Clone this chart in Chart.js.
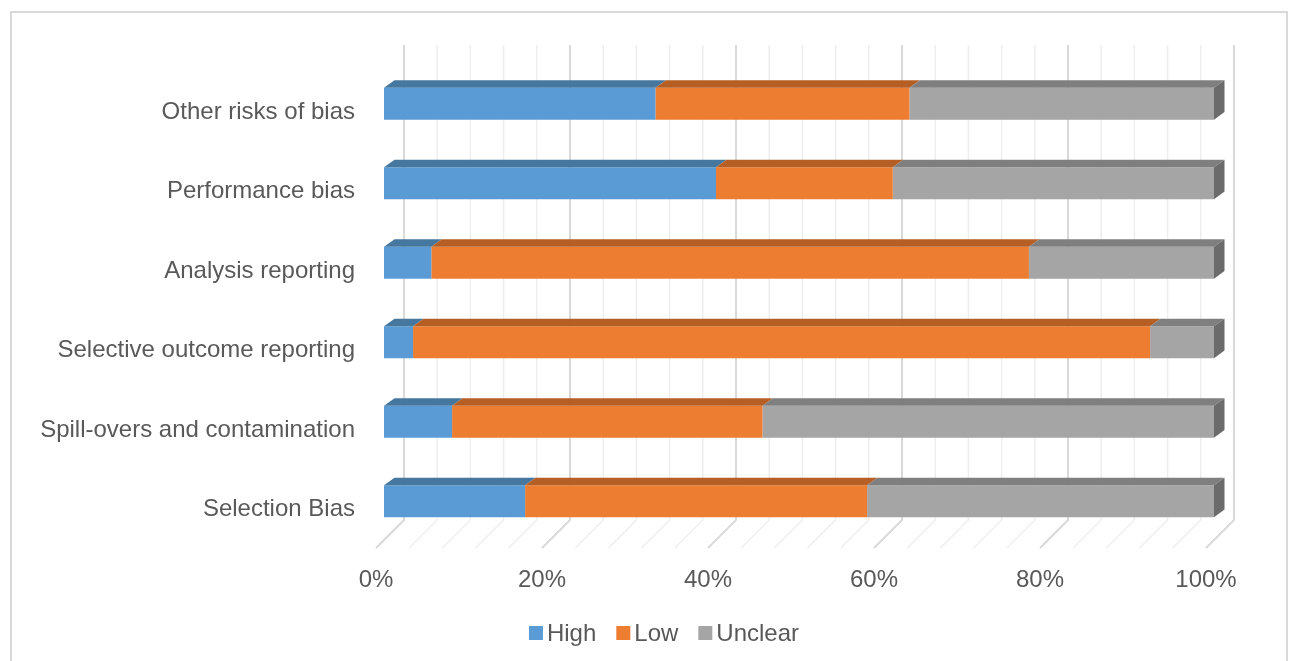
<!DOCTYPE html>
<html>
<head>
<meta charset="utf-8">
<script src="https://cdn.jsdelivr.net/npm/chart.js@4.4.1/dist/chart.umd.min.js"></script>
<style>
  html, body { margin: 0; padding: 0; background: #ffffff; }
  #wrap { position: relative; width: 1300px; height: 661px; overflow: hidden; }
  #frame { position: absolute; left: 10px; top: 11px; width: 1278px; height: 680px; border: 2px solid #d9d9d9; box-sizing: border-box; }
  canvas { position: absolute; left: 0; top: 0; }
</style>
</head>
<body>
<div id="wrap">
  <div id="frame"></div>
  <canvas id="c" width="1300" height="661"></canvas>
</div>
<script>
const categories = ["Other risks of bias", "Performance bias", "Analysis reporting", "Selective outcome reporting", "Spill-overs and contamination", "Selection Bias"];
const high    = [32.7, 40.0, 5.7, 3.5, 8.2, 17.0];
const low     = [30.6, 21.3, 72.0, 88.8, 37.4, 41.2];
const unclear = [36.7, 38.7, 22.3, 7.7, 54.4, 41.8];
const seriesNames = ["High", "Low", "Unclear"];
const tickValues = [0, 20, 40, 60, 80, 100];

const FONT = '"Liberation Sans", Arial, sans-serif';
const FSIZE = 24;
const TEXT = '#595959';
const frontColors = ['#5B9BD5', '#ED7D31', '#A5A5A5'];
const topColors = ['#45779F', '#B65F24', '#7F7F7F'];
const sideColor = '#6B6B6B';

const DX = 10.5, DY = -7.7;     // bar depth projection
const WALL_DX = 20;            // back wall offset
const FLOOR_DX = -28, FLOOR_DY = 28;

const threeD = {
  id: 'threeD',
  beforeDatasetsDraw(chart) {
    const ctx = chart.ctx, xs = chart.scales.x, ca = chart.chartArea;
    const wallTop = ca.top - 19, wallBottom = ca.bottom - 21;
    ctx.save();
    for (let v = 0; v <= 100; v += 4) {
      const major = v % 20 === 0;
      const x = xs.getPixelForValue(v) + WALL_DX;
      ctx.beginPath();
      ctx.strokeStyle = major ? '#d9d9d9' : '#eeeeee';
      ctx.lineWidth = major ? 2 : 1.5;
      ctx.moveTo(x, wallTop);
      ctx.lineTo(x, wallBottom);
      ctx.lineTo(x + FLOOR_DX, wallBottom + FLOOR_DY);
      ctx.stroke();
    }
    ctx.restore();
  },
  afterDatasetsDraw(chart) {
    const ctx = chart.ctx;
    ctx.save();
    const n = chart.data.datasets.length;
    chart.data.datasets.forEach((ds, di) => {
      const meta = chart.getDatasetMeta(di);
      meta.data.forEach(el => {
        const p = el.getProps(['x', 'y', 'base', 'height'], true);
        const top = p.y - p.height / 2, bottom = p.y + p.height / 2;
        const x0 = Math.min(p.base, p.x), x1 = Math.max(p.base, p.x);
        ctx.beginPath();
        ctx.fillStyle = topColors[di];
        ctx.moveTo(x0, top);
        ctx.lineTo(x1, top);
        ctx.lineTo(x1 + DX, top + DY);
        ctx.lineTo(x0 + DX, top + DY);
        ctx.closePath();
        ctx.fill();
        if (di === n - 1) {
          ctx.beginPath();
          ctx.fillStyle = sideColor;
          ctx.moveTo(x1, top);
          ctx.lineTo(x1 + DX, top + DY);
          ctx.lineTo(x1 + DX, bottom + DY);
          ctx.lineTo(x1, bottom);
          ctx.closePath();
          ctx.fill();
        }
      });
    });
    ctx.restore();
  },
  afterDraw(chart) {
    // legend
    const ctx = chart.ctx;
    ctx.save();
    ctx.font = FSIZE + 'px ' + FONT;
    ctx.textBaseline = 'middle';
    const box = 14, gapText = 4, gapItem = 20;
    const widths = chart.data.datasets.map(d => box + gapText + ctx.measureText(d.label).width);
    const total = widths.reduce((a, b) => a + b, 0) + gapItem * (widths.length - 1);
    let x = 664 - total / 2;
    const cy = 633;
    chart.data.datasets.forEach((d, i) => {
      ctx.fillStyle = frontColors[i];
      ctx.fillRect(x, cy - box / 2, box, box);
      ctx.fillStyle = TEXT;
      ctx.fillText(d.label, x + box + gapText, cy + 1);
      x += widths[i] + gapItem;
    });
    ctx.restore();
  }
};

new Chart(document.getElementById('c'), {
  type: 'bar',
  data: {
    labels: categories,
    datasets: [
      { label: seriesNames[0], data: high, backgroundColor: frontColors[0] },
      { label: seriesNames[1], data: low, backgroundColor: frontColors[1] },
      { label: seriesNames[2], data: unclear, backgroundColor: frontColors[2] }
    ]
  },
  options: {
    indexAxis: 'y',
    responsive: false,
    animation: false,
    devicePixelRatio: 1,
    layout: { padding: { left: 0, right: 86, top: 64, bottom: 0 } },
    datasets: { bar: { categoryPercentage: 1, barPercentage: 0.4, borderWidth: 0 } },
    plugins: { legend: { display: false }, tooltip: { enabled: false } },
    scales: {
      x: {
        stacked: true, min: 0, max: 100,
        afterFit(s) { s.height = 120; },
        afterBuildTicks(s) { s.ticks = tickValues.map(v => ({ value: v })); },
        grid: { display: false, drawTicks: false },
        border: { display: false },
        ticks: {
          padding: 25, labelOffset: -8, maxRotation: 0, autoSkip: false,
          color: TEXT, font: { family: FONT, size: FSIZE },
          callback: v => v + '%'
        }
      },
      y: {
        stacked: true,
        afterFit(s) { s.width = 384; },
        grid: { display: false, drawTicks: false },
        border: { display: false },
        ticks: {
          padding: 29, labelOffset: 8.5, autoSkip: false,
          color: TEXT, font: { family: FONT, size: FSIZE }
        }
      }
    }
  },
  plugins: [threeD]
});
</script>
</body>
</html>
